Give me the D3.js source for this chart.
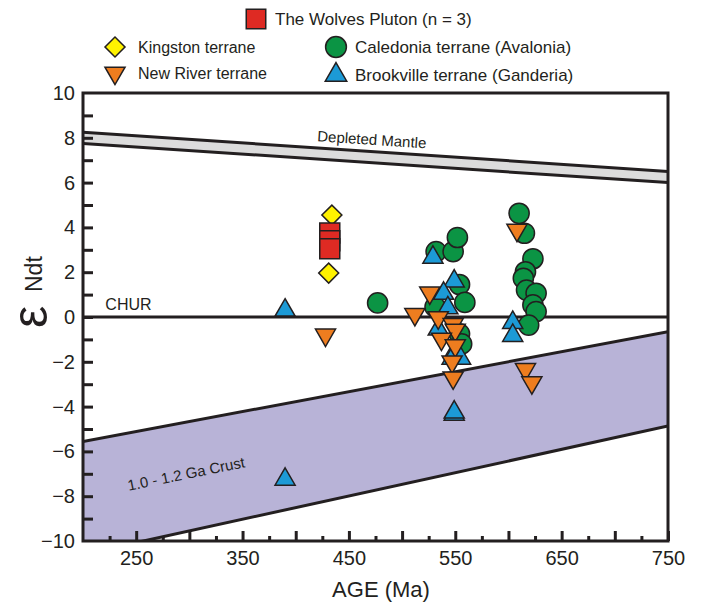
<!DOCTYPE html>
<html>
<head>
<meta charset="utf-8">
<script src="https://cdn.jsdelivr.net/npm/d3@7"></script>
<style>
  body { margin: 0; background: #fff; }
  text { font-family: "Liberation Sans", Arial, sans-serif; fill: #231f20; }
</style>
</head>
<body>
<div id="chart"></div>
<script>
// Data: [age (Ma), eNd(t)]
const wolvesPluton = [[432, 3.75], [432, 3.4], [432, 3.05]];
const kingston = [[434, 4.55], [431, 1.96]];
const caledonia = [
  [477, 0.63], [532, 2.92], [548, 2.92], [552, 3.55], [554, 1.45], [559, 0.65],
  [531, 0.45], [554, -0.75], [556, -1.2],
  [610, 4.63], [615, 3.74], [623, 2.6], [616, 2.02], [614, 1.73], [617, 1.2],
  [626, 1.06], [623, 0.54], [626, 0.24], [619, -0.36]
];
const newRiver = [
  [428, -0.8], [526, 1.08], [512, 0.12], [534, -0.03], [548, -0.33], [550, -0.58],
  [537, -0.98], [550, -1.28], [547, -2.0], [548, -2.71],
  [608, 3.88], [616, -2.34], [622, -2.93]
];
const brookville = [
  [390, 0.3], [390, -7.25], [529, 2.66], [549, 1.6], [539, 1.05], [543, 0.4],
  [534, -0.55], [550, -1.5], [547, -1.85], [555, -1.85], [549, -4.35], [549, -4.25],
  [604, -0.25], [604, -0.83]
];

// Reference curves: [age, upper, lower]
const depletedMantle = [[200, 8.25, 7.75], [750, 6.5, 6.0]];
const crust = [[200, -5.56, -10.59], [750, -0.66, -4.87]];
const chur = [[200, 0], [750, 0]];

const xTicks = [250, 350, 450, 550, 650, 750];
const yTicks = [-10, -8, -6, -4, -2, 0, 2, 4, 6, 8, 10];

// Chart dimensions
const W = 704, H = 604;
const plot = {left: 83, right: 668, top: 93, bottom: 541};

const svg = d3.select("#chart").append("svg")
  .attr("width", W)
  .attr("height", H);

const x = d3.scaleLinear().domain([200, 750]).range([plot.left, plot.right]);
const y = d3.scaleLinear().domain([-10, 10]).range([plot.bottom, plot.top]);

svg.append("clipPath").attr("id", "clip")
  .append("rect")
  .attr("x", plot.left).attr("y", plot.top)
  .attr("width", plot.right - plot.left).attr("height", plot.bottom - plot.top);

const inner = svg.append("g").attr("clip-path", "url(#clip)");

// Bands
const band = d3.area().x(d => x(d[0])).y0(d => y(d[2])).y1(d => y(d[1]));
const upper = d3.line().x(d => x(d[0])).y(d => y(d[1]));
const lower = d3.line().x(d => x(d[0])).y(d => y(d[2]));

inner.append("path").datum(crust).attr("d", band).attr("fill", "#b8b3d7");
inner.append("path").datum(depletedMantle).attr("d", band).attr("fill", "#dcdcdc");

[crust, depletedMantle].forEach(b => {
  inner.append("path").datum(b).attr("d", upper)
    .attr("fill", "none").attr("stroke", "#231f20").attr("stroke-width", 3);
  inner.append("path").datum(b).attr("d", lower)
    .attr("fill", "none").attr("stroke", "#231f20").attr("stroke-width", 3);
});

inner.append("path").datum(chur)
  .attr("d", d3.line().x(d => x(d[0])).y(d => y(d[1])))
  .attr("stroke", "#231f20").attr("stroke-width", 3);

// Band labels
svg.append("text")
  .attr("transform", `translate(${x(420)},${y(7.85)}) rotate(3.8)`)
  .attr("font-size", 15)
  .text("Depleted Mantle");

svg.append("text")
  .attr("transform", `translate(${x(243)},${y(-7.76)}) rotate(-11.5)`)
  .attr("font-size", 15)
  .text("1.0 - 1.2 Ga Crust");

svg.append("text")
  .attr("x", x(221)).attr("y", y(0) - 7)
  .attr("font-size", 16)
  .text("CHUR");

// Axes with inward ticks
const axisStyle = g => {
  g.select(".domain").remove();
  g.selectAll(".tick line").attr("stroke", "#231f20").attr("stroke-width", 3);
  g.selectAll(".tick text").attr("font-size", 20).attr("fill", "#231f20")
    .attr("font-family", "'Liberation Sans', Arial, sans-serif");
};

svg.append("g")
  .attr("transform", `translate(0,${plot.bottom})`)
  .call(d3.axisBottom(x).tickValues(d3.range(225, 750, 50)).tickSize(-5).tickFormat(""))
  .call(axisStyle);

svg.append("g")
  .attr("transform", `translate(0,${plot.bottom})`)
  .call(d3.axisBottom(x).tickValues(d3.range(250, 751, 50)).tickSize(-10).tickFormat(""))
  .call(axisStyle);

svg.append("g")
  .attr("transform", `translate(0,${plot.bottom})`)
  .call(d3.axisBottom(x).tickValues(xTicks).tickSize(0).tickPadding(10))
  .call(axisStyle)
  .selectAll("text").attr("dy", "0.71em");

svg.append("g")
  .attr("transform", `translate(${plot.left},0)`)
  .call(d3.axisLeft(y).tickValues(d3.range(-9, 10, 1)).tickSize(-10).tickFormat(""))
  .call(axisStyle);

svg.append("g")
  .attr("transform", `translate(${plot.left},0)`)
  .call(d3.axisLeft(y).tickValues(yTicks).tickSize(0).tickPadding(8))
  .call(axisStyle);

// Frame
svg.append("rect")
  .attr("x", plot.left).attr("y", plot.top)
  .attr("width", plot.right - plot.left).attr("height", plot.bottom - plot.top)
  .attr("fill", "none").attr("stroke", "#231f20").attr("stroke-width", 3);

// Axis titles
svg.append("text")
  .attr("x", 381).attr("y", 597)
  .attr("text-anchor", "middle")
  .attr("font-size", 22)
  .text("AGE (Ma)");

const yTitle = svg.append("g").attr("transform", "translate(47,328) rotate(-90)");
yTitle.append("text").attr("font-size", 50).text("ε");
yTitle.append("text").attr("x", 36).attr("y", -5).attr("font-size", 23).text("Ndt");

// Symbols
const stroke = "#231f20";
const series = [
  {data: caledonia, fill: "#0b9444", type: d3.symbolCircle, size: 320, rot: 0},
  {data: brookville, fill: "#1c9ad6", type: d3.symbolTriangle, size: 175, rot: 0},
  {data: newRiver, fill: "#ee7d1f", type: d3.symbolTriangle, size: 175, rot: 180},
  {data: kingston, fill: "#fff200", type: d3.symbolSquare, size: 200, rot: 45},
  {data: wolvesPluton, fill: "#de2a23", type: d3.symbolSquare, size: 400, rot: 0}
];

series.forEach(s => {
  svg.append("g").selectAll("path")
    .data(s.data)
    .enter().append("path")
    .attr("transform", d => `translate(${x(d[0])},${y(d[1])}) rotate(${s.rot})`)
    .attr("d", d3.symbol().type(s.type).size(s.size))
    .attr("fill", s.fill)
    .attr("stroke", stroke)
    .attr("stroke-width", 1.5);
});

// Legend
const legendItems = [
  {label: "The Wolves Pluton (n = 3)", x: 256, y: 19, s: series[4], size: 380, fs: 17, dx: 19},
  {label: "Kingston terrane", x: 115, y: 47, s: series[3], size: 200, fs: 16, dx: 23},
  {label: "New River terrane", x: 115, y: 73, s: series[2], size: 175, fs: 16, dx: 23},
  {label: "Caledonia terrane (Avalonia)", x: 336, y: 47, s: series[0], size: 340, fs: 17, dx: 19},
  {label: "Brookville terrane (Ganderia)", x: 336, y: 75, s: series[1], size: 200, fs: 17, dx: 19}
];

const legend = svg.append("g").selectAll("g")
  .data(legendItems)
  .enter().append("g")
  .attr("transform", d => `translate(${d.x},${d.y})`);

legend.append("path")
  .attr("transform", d => `rotate(${d.s.rot})`)
  .attr("d", d => d3.symbol().type(d.s.type).size(d.size)())
  .attr("fill", d => d.s.fill)
  .attr("stroke", stroke)
  .attr("stroke-width", 1.5);

legend.append("text")
  .attr("x", d => d.dx)
  .attr("y", 6)
  .attr("font-size", d => d.fs)
  .text(d => d.label);
</script>
</body>
</html>
